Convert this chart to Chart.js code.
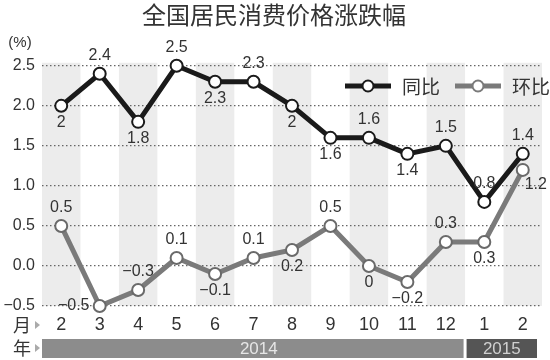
<!DOCTYPE html>
<html>
<head>
<meta charset="utf-8">
<script src="https://cdn.jsdelivr.net/npm/chart.js@4"></script>
<style>
  html, body { margin: 0; padding: 0; background: #fff; }
  #wrap { width: 550px; height: 360px; }
</style>
</head>
<body>
<div id="wrap"><canvas id="cpi" width="550" height="360"></canvas></div>
<script>
// months (2014-02 .. 2015-02)
var months = ['2', '3', '4', '5', '6', '7', '8', '9', '10', '11', '12', '1', '2'];
var years = [
    { label: '2014', from: 0, to: 10 },
    { label: '2015', from: 11, to: 12 }
];
// year-on-year
var tongbi = [2, 2.4, 1.8, 2.5, 2.3, 2.3, 2, 1.6, 1.6, 1.4, 1.5, 0.8, 1.4];
// month-on-month
var huanbi = [0.5, -0.5, -0.3, 0.1, -0.1, 0.1, 0.2, 0.5, 0, -0.2, 0.3, 0.3, 1.2];
var yTicks = [-0.5, 0, 0.5, 1, 1.5, 2, 2.5];

// where each value label sits relative to its point
var tongbiPos = ['b','t','b','t','b','t','b','b','t','b','t','t','t'];
var huanbiPos = ['t','l','t','t','b','t','b','t','b','b','t','b','br'];

var FONT = '"Liberation Sans", "Noto Sans CJK SC", Arial, sans-serif';
var CJK = '"Noto Sans CJK SC", "Liberation Sans", sans-serif';

function fmt(v) {
    return (v < 0 ? '\u2212' : '') + Math.abs(v);
}

// grey bands behind every other month
var bands = {
    id: 'bands',
    beforeDraw: function(chart) {
        var ctx = chart.ctx, x = chart.scales.x, a = chart.chartArea;
        var w = (a.right - a.left) / months.length;
        ctx.save();
        ctx.fillStyle = '#ececec';
        for (var i = 0; i < months.length; i += 2) {
            var cx = x.getPixelForValue(i);
            ctx.fillRect(cx - w / 2, a.top - 3, w, a.bottom - a.top + 3);
        }
        ctx.restore();
    }
};

// value labels, legend, year bar and small captions
var extras = {
    id: 'extras',
    afterDraw: function(chart) {
        var ctx = chart.ctx, x = chart.scales.x, a = chart.chartArea;
        ctx.save();
        ctx.font = '16px ' + FONT;
        ctx.fillStyle = '#333';
        ctx.textAlign = 'center';
        ctx.textBaseline = 'middle';
        [[0, tongbiPos], [1, huanbiPos]].forEach(function(d) {
            var meta = chart.getDatasetMeta(d[0]);
            var vals = chart.data.datasets[d[0]].data;
            meta.data.forEach(function(pt, i) {
                var p = d[1][i], tx = pt.x, ty = pt.y;
                if (p == 't') ty -= 18;
                else if (p == 'b') ty += 17;
                else if (p == 'l') tx -= 26;
                else if (p == 'br') { tx += 13; ty += 15; }
                ctx.fillText(fmt(vals[i]), tx, ty);
            });
        });

        // (%)
        ctx.font = '15px ' + FONT;
        ctx.fillText('(%)', 20, 43);

        // legend
        var items = [['同比', '#1a1a1a', 345], ['环比', '#7a7a7a', 455]];
        items.forEach(function(it) {
            ctx.strokeStyle = it[1];
            ctx.lineWidth = 5;
            ctx.beginPath();
            ctx.moveTo(it[2], 86);
            ctx.lineTo(it[2] + 46, 86);
            ctx.stroke();
            ctx.beginPath();
            ctx.arc(it[2] + 23, 86, 5.5, 0, Math.PI * 2);
            ctx.fillStyle = '#fff';
            ctx.fill();
            ctx.lineWidth = 2;
            ctx.stroke();
            ctx.fillStyle = '#333';
            ctx.font = '19px ' + CJK;
            ctx.textAlign = 'left';
            ctx.fillText(it[0], it[2] + 57, 87);
        });

        // row captions
        ctx.font = '18px ' + CJK;
        ctx.textAlign = 'center';
        ctx.fillStyle = '#333';
        ctx.fillText('月', 22, 325);
        ctx.fillText('年', 22, 348);
        ctx.fillStyle = '#aaa';
        [325, 348].forEach(function(y) {
            ctx.beginPath();
            ctx.moveTo(35, y - 4);
            ctx.lineTo(40, y);
            ctx.lineTo(35, y + 4);
            ctx.fill();
        });

        // year bar
        var w = (a.right - a.left) / months.length;
        years.forEach(function(yr, k) {
            var x0 = x.getPixelForValue(yr.from) - w / 2 + (k ? 1.5 : 0);
            var x1 = x.getPixelForValue(yr.to) + w / 2 - (k ? 5 : 1.5);
            ctx.fillStyle = k ? '#555' : '#8c8c8c';
            ctx.fillRect(x0, 339, x1 - x0, 19);
            ctx.fillStyle = k ? '#d0d0d0' : '#e6e6e6';
            ctx.font = '17px ' + FONT;
            ctx.fillText(yr.label, (x0 + x1) / 2 + (k ? 0 : 6), 349);
        });
        ctx.restore();
    }
};

new Chart(document.getElementById('cpi'), {
    type: 'line',
    data: {
        labels: months,
        datasets: [
            {
                label: '同比',
                data: tongbi,
                borderColor: '#1a1a1a',
                borderWidth: 5,
                pointRadius: 6,
                pointBorderWidth: 2,
                pointBackgroundColor: '#fff',
                pointBorderColor: '#1a1a1a',
                clip: false,
                tension: 0
            },
            {
                label: '环比',
                data: huanbi,
                borderColor: '#7a7a7a',
                borderWidth: 5,
                pointRadius: 6,
                pointBorderWidth: 2,
                pointBackgroundColor: '#fff',
                pointBorderColor: '#6a6a6a',
                clip: false,
                tension: 0
            }
        ]
    },
    options: {
        responsive: false,
        animation: false,
        layout: { padding: { top: 0, right: 2, bottom: 0, left: 0 } },
        plugins: {
            legend: { display: false },
            tooltip: { enabled: false },
            title: {
                display: true,
                text: '全国居民消费价格涨跌幅',
                color: '#333',
                font: { family: CJK, size: 24, weight: 'normal' },
                padding: { top: 0, bottom: 37 }
            }
        },
        scales: {
            x: {
                offset: true,
                grid: { display: false, drawTicks: false },
                border: { display: false },
                ticks: {
                    color: '#333',
                    font: { family: FONT, size: 18 },
                    padding: 8,
                    maxRotation: 0
                },
                afterFit: function(s) { s.height = 54; }
            },
            y: {
                min: -0.5,
                max: 2.5,
                afterBuildTicks: function(s) {
                    s.ticks = yTicks.map(function(v) { return { value: v }; });
                },
                grid: {
                    color: '#666',
                    lineWidth: 1.2,
                    drawTicks: false
                },
                border: { display: false, dash: [1.5, 2.5] },
                ticks: {
                    color: '#333',
                    font: { family: FONT, size: 16 },
                    padding: 7,
                    callback: function(v) {
                        return (v < 0 ? '\u2212' : '') + Math.abs(v).toFixed(1);
                    }
                },
                afterFit: function(s) { s.width = 42; }
            }
        }
    },
    plugins: [bands, extras]
});
</script>
</body>
</html>
